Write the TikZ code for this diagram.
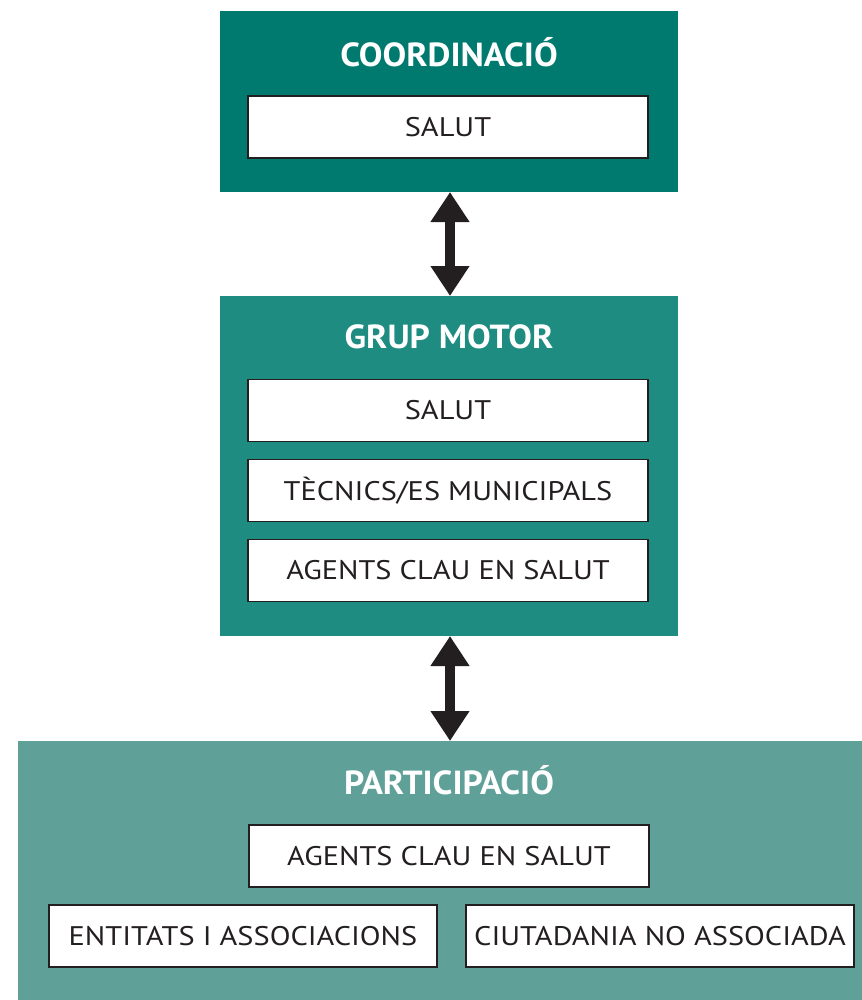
\documentclass[tikz,border=0pt]{standalone}
\usepackage{fontspec}
\setmainfont{PT Sans}
\newfontfamily\boxfont[FakeStretch=1.13]{PT Sans}
\newfontfamily\titlefont[FakeStretch=1.06]{PT Sans}
\usetikzlibrary{arrows.meta}
\definecolor{coordgreen}{RGB}{0,122,110}
\definecolor{motorgreen}{RGB}{30,140,128}
\definecolor{partgreen}{RGB}{95,160,153}
\definecolor{inkdark}{RGB}{35,31,32}
\tikzset{
  panel/.style={inner sep=0pt, outer sep=0pt},
  paneltitle/.style={text=white, font=\titlefont\fontsize{19}{22}\selectfont\bfseries},
  itembox/.style={draw=inkdark, line width=1.1pt, fill=white, text=inkdark,
    minimum height=1.24cm, inner sep=0pt, font=\boxfont\fontsize{15.3}{18}\selectfont},
  linkarrow/.style={draw=inkdark, line width=0.2cm,
    {Triangle[length=0.6cm, width=0.74cm]}-{Triangle[length=0.6cm, width=0.74cm]}}
}
\begin{document}
\begin{tikzpicture}
  \useasboundingbox (0,0) rectangle (17.24,-20);
  % panels
  \node[panel, fill=coordgreen, minimum width=9.16cm, minimum height=3.62cm] (coord) at (8.98,-2.03) {};
  \node[panel, fill=motorgreen, minimum width=9.16cm, minimum height=6.8cm] (motor) at (8.98,-9.32) {};
  \node[panel, fill=partgreen, minimum width=16.88cm, minimum height=5.18cm] (part) at (8.8,-17.41) {};
  % titles
  \node[paneltitle] (coordtitle) at (8.98,-1.04) {COORDINACIÓ};
  \node[paneltitle] (motortitle) at (8.98,-6.74) {GRUP MOTOR};
  \node[paneltitle] (parttitle) at (8.98,-15.6) {PARTICIPACIÓ};
  % boxes
  \node[itembox, minimum width=8cm] (coordsalut) at (8.96,-2.54) {SALUT};
  \node[itembox, minimum width=8cm] (motorsalut) at (8.96,-8.21) {SALUT};
  \node[itembox, minimum width=8cm] (tecnics) at (8.96,-9.81) {TÈCNICS/ES MUNICIPALS};
  \node[itembox, minimum width=8cm] (motoragents) at (8.96,-11.41) {AGENTS CLAU EN SALUT};
  \node[itembox, minimum width=8cm] (partagents) at (8.98,-17.12) {AGENTS CLAU EN SALUT};
  \node[itembox, minimum width=7.76cm] (entitats) at (4.86,-18.72) {ENTITATS I ASSOCIACIONS};
  \node[itembox, minimum width=7.76cm] (ciutadania) at (13.2,-18.72) {CIUTADANIA NO ASSOCIADA};
  % links
  \draw[linkarrow] (coord.south -| 9,0) -- (motor.north -| 9,0);
  \draw[linkarrow] (motor.south -| 9,0) -- (part.north -| 9,0);
\end{tikzpicture}
\end{document}
